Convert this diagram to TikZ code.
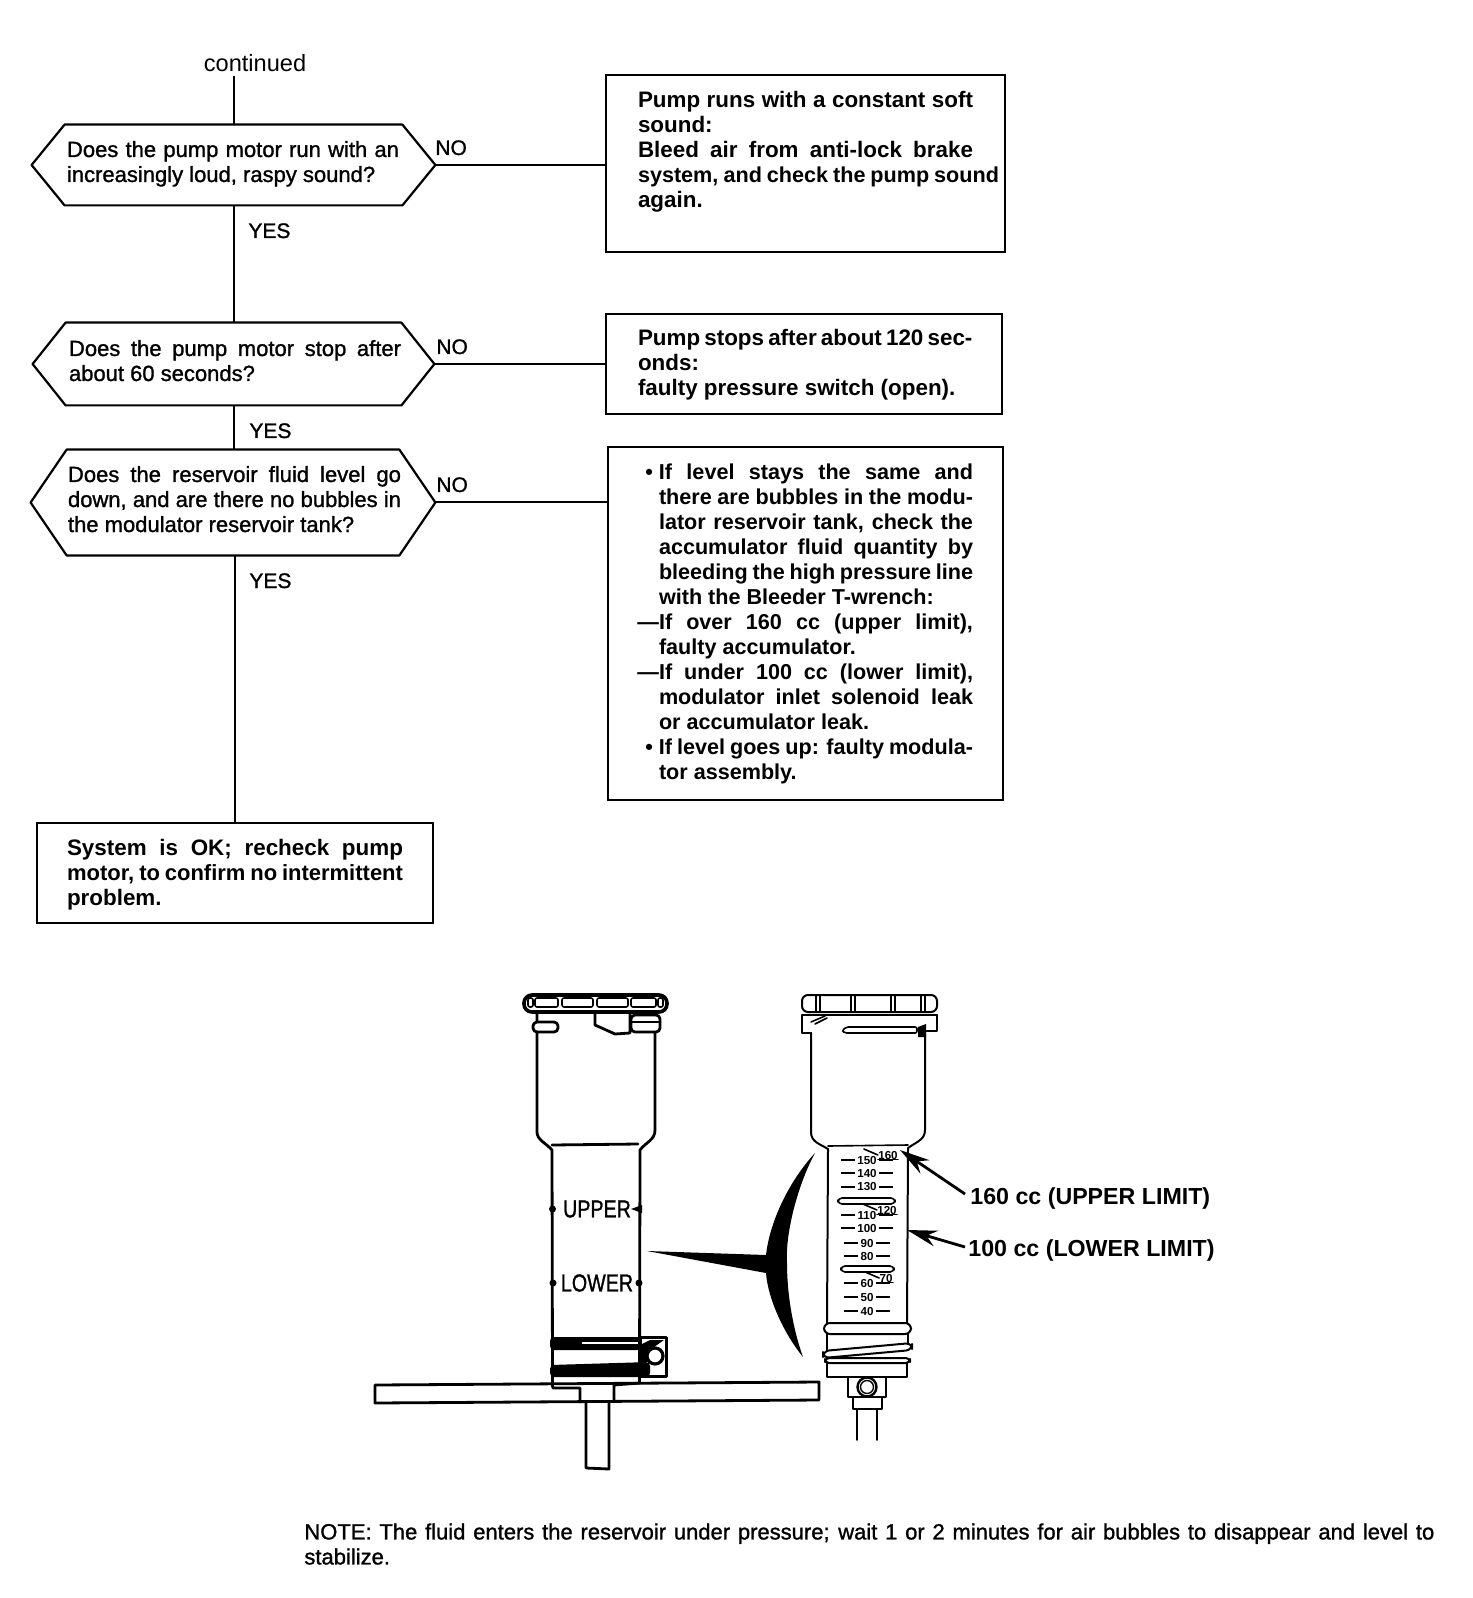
\documentclass[tikz,border=0pt]{standalone}
\usepackage{fontspec}
\usepackage{graphicx}
\setmainfont{Liberation Sans}
\newfontfamily\medf[FakeBold=1.2]{Liberation Sans}
\usetikzlibrary{arrows.meta}
\hbadness=10000 \hfuzz=50pt \vbadness=10000 \vfuzz=50pt
\newdimen\tbpad
\newcommand\TB[5]{\vbox to #2pt{\hrule height 0pt width #1pt \baselineskip=12.5pt \lineskip=0pt \lineskiplimit=-100pt \tbpad=#4pt
  \vskip\dimexpr #3pt-12.5pt\relax \prevdepth=0pt #5\vss}}
\newcommand\JL[2]{\hbox{\kern\tbpad\hbox to #1pt{#2}}}
\newcommand\PL[1]{\hbox{\kern\tbpad #1}}
\tikzset{
  conn/.style={line width=1pt,black},
  hexnode/.style={inner sep=0pt,font=\fontsize{11}{12.5}\medf},
  hexline/.style={line width=1.1pt,line join=round},
  procbox/.style={draw,line width=1pt,inner sep=0pt,font=\fontsize{11.2}{12.5}\bfseries},
  flowlab/.style={inner sep=0pt,anchor=base west,font=\fontsize{10.5}{12.5}\medf},
  calllab/.style={inner sep=0pt,anchor=base west,font=\fontsize{11.6}{12.5}\bfseries},
  part/.style={line width=1.4pt,line join=round,line cap=round},
  rpart/.style={line width=1pt,line join=round,line cap=round},
  thinpart/.style={line width=.8pt,line join=round,line cap=round},
  stencil/.style={inner sep=0pt,font=\fontsize{12}{12}\medf},
  gradtxt/.style={inner sep=0pt,font=\fontsize{5.8}{6}\bfseries},
  callarrow/.style={line width=1.4pt,-{Stealth[length=15pt,width=8pt]}}
}
\begin{document}
\begin{tikzpicture}[x=0.5pt,y=-0.5pt]
\useasboundingbox (0,0) rectangle (1472,1598);
% --- flowchart ---
\node[flowlab,anchor=base,font=\fontsize{11.8}{12.5}\selectfont] (cont) at (255,72) {continued};
\coordinate (contEnd) at (233.5,76);
\node[hexnode,minimum width=201.5pt,minimum height=40pt] (d1) at (233.5,165)
  {\TB{201.5}{40}{16}{17.5}{\JL{166}{Does the pump motor run with an}\PL{increasingly loud, raspy sound?}}};
\node[hexnode,minimum width=200.5pt,minimum height=41pt] (d2) at (233.5,364)
  {\TB{200.5}{41}{16.5}{18}{\JL{166}{Does the pump motor stop after}\PL{about 60 seconds?}}};
\node[hexnode,minimum width=202pt,minimum height=52.5pt] (d3) at (233,502.5)
  {\TB{202}{52.5}{16}{18.5}{\JL{166.5}{Does the reservoir fluid level go}\JL{166.5}{down, and are there no bubbles in}\PL{the modulator reservoir tank?}}};
\foreach \n/\c in {d1/16.5,d2/16.5,d3/18}{
  \draw[hexline] (\n.west) -- ([xshift=\c pt]\n.north west) -- ([xshift=-\c pt]\n.north east) -- (\n.east)
     -- ([xshift=-\c pt]\n.south east) -- ([xshift=\c pt]\n.south west) -- cycle;
}
\node[procbox,minimum width=199.5pt,minimum height=88.5pt] (b1) at (805.5,163.5)
  {\TB{199.5}{88.5}{16.5}{16}{\JL{167.5}{Pump runs with a constant soft}\PL{sound:}\JL{167.5}{Bleed air from anti-lock brake}\JL{180.5}{\fontsize{10.8}{12.5}\selectfont system, and check the pump sound}\PL{again.}}};
\node[procbox,minimum width=198pt,minimum height=50pt] (b2) at (804,364)
  {\TB{198}{50}{16}{16}{\JL{167}{Pump stops after about 120 sec-}\PL{onds:}\PL{faulty pressure switch (open).}}};
\node[procbox,minimum width=197.5pt,minimum height=176.5pt,font=\fontsize{10.8}{12.5}\bfseries] (b3) at (805.5,623.5)
  {\TB{197.5}{176.5}{16}{25.5}{%
   \JL{157}{\llap{\textbullet\kern3pt}If level stays the same and}
   \JL{157}{there are bubbles in the modu-}
   \JL{157}{lator reservoir tank, check the}
   \JL{157}{accumulator fluid quantity by}
   \JL{157}{bleeding the high pressure line}
   \PL{with the Bleeder T-wrench:}
   \JL{157}{\llap{---}If over 160 cc (upper limit),}
   \PL{faulty accumulator.}
   \JL{157}{\llap{---}If under 100 cc (lower limit),}
   \JL{157}{modulator inlet solenoid leak}
   \PL{or accumulator leak.}
   \JL{157}{\llap{\textbullet\kern3pt}If level goes up: faulty modula-}
   \PL{tor assembly.}}};
\node[procbox,minimum width=198pt,minimum height=50pt] (sys) at (235,873)
  {\TB{198}{50}{16}{15}{\JL{168}{System is OK; recheck pump}\JL{168}{\fontsize{11}{12.5}\selectfont motor, to confirm no intermittent}\PL{problem.}}};
\draw[conn] (contEnd) -- (contEnd |- d1.north);
\draw[conn] (d1.south) -- (d2.north);
\draw[conn] (d2.south) -- (d3.north -| d2.south);
\draw[conn] (sys.north |- d3.south) -- (sys.north);
\draw[conn] (d1.east) -- (d1.east -| b1.west);
\draw[conn] (d2.east) -- (d2.east -| b2.west);
\draw[conn] (d3.east) -- (d3.east -| b3.west);
\node[flowlab] (no1) at (435,155) {NO};
\node[flowlab] (no2) at (436,354) {NO};
\node[flowlab] (no3) at (436,492) {NO};
\node[flowlab] (yes1) at (248,238) {YES};
\node[flowlab] (yes2) at (249,438) {YES};
\node[flowlab] (yes3) at (249,588) {YES};
% --- left reservoir ---
\draw[part] (537,1013) -- (537,1132) .. controls (537,1140) and (546,1143) .. (552,1150) -- (552.5,1383);
\draw[part] (655,1033) -- (655,1130) .. controls (655,1140) and (646,1142) .. (640,1150) -- (639.5,1383);
\draw[part] (552,1145) -- (638,1144);
\draw[part,fill=white,rounded corners=4pt,line width=1.8pt] (524,995) rectangle (667,1012);
\foreach \a/\b in {528/533,535/558,562/593,597/628,631/656,658/663}
  \draw[thinpart,rounded corners=1pt] (\a,998) rectangle (\b,1007);
\draw[part,fill=white,rounded corners=2pt] (533,1022) rectangle (558,1032);
\draw[part,fill=white,rounded corners=2pt] (631,1015) rectangle (660,1032);
\draw[part] (631,1022) -- (660,1022);
\draw[part] (595,1013) -- (595,1025) -- (615,1034) -- (630,1033) -- (630,1013);
\node[stencil] (upper) at (597,1209) {\scalebox{0.82}[1.02]{UPPER}};
\node[stencil] (lower) at (597,1283) {\scalebox{0.82}[1.02]{LOWER}};
\fill (552.5,1209) circle [radius=3.5];
\fill (642,1205) -- (631,1209) -- (642,1213) -- cycle;
\fill (553,1283) circle [radius=3.5];
\fill (639,1283) circle [radius=3.5];
% clamp and bands
\draw[part,line width=1.5pt] (640,1337) rectangle (666,1376);
\fill[rounded corners=2pt] (550,1337) rectangle (641,1350);
\fill[white] (582,1342) rectangle (638,1344);
\fill[rounded corners=2pt] (550,1365) -- (650,1362) -- (650,1377) -- (550,1377) -- cycle;
\fill (640,1345) -- (650,1340) -- (664,1340) -- (650,1350) -- (650,1362) -- (640,1362) -- cycle;
\draw[fill=white,line width=1.6pt] (655,1356) circle [radius=8];
% T-wrench
\draw[part,fill=white] (375,1385) -- (819,1382) -- (819,1400) -- (375,1403) -- cycle;
\draw[part] (552,1384) -- (553,1388) -- (580,1388) -- (580,1402);
\draw[part] (640,1383) -- (614,1385) -- (614,1402);
\draw[part] (586,1402) -- (586,1468) -- (609,1469) -- (609,1402);
% --- big arrow between the reservoirs ---
\fill (647,1251) -- (766,1255) .. controls (770,1220) and (790,1180) .. (815,1153)
  .. controls (800,1180) and (785,1230) .. (787,1263)
  .. controls (787,1300) and (795,1335) .. (803,1357)
  .. controls (785,1335) and (768,1300) .. (766,1273) -- cycle;
% --- right reservoir ---
\draw[rpart] (811,1033) -- (811,1132) .. controls (811,1142) and (820,1144) .. (828,1149) -- (827,1323);
\draw[rpart] (925,1033) -- (925,1130) .. controls (925,1140) and (916,1142) .. (908,1148) -- (907,1323);
\draw[thinpart] (828,1146) -- (908,1145);
\draw[rpart,rounded corners=3pt,fill=white] (802,1012) -- (802,995) -- (937,995) -- (937,1012) -- cycle;
\draw[rpart] (802,1015) -- (937,1015);
\foreach \x in {818,853,893,923}{
  \draw[thinpart] (\x-2,996) -- (\x-2,1011);
  \draw[thinpart] (\x+2,996) -- (\x+2,1011);
}
\draw[rpart] (802,1015) -- (802,1033) -- (811,1033);
\draw[rpart] (937,1015) -- (937,1031) -- (925,1031);
\draw[thinpart] (811,1022) -- (825,1016);
\draw[thinpart] (815,1024) -- (827,1018);
\draw[thinpart,rounded corners=1pt] (846,1027) -- (917,1027) -- (917,1033) -- (845,1033) -- (842,1031) -- cycle;
\fill (918,1027) -- (926,1024) -- (926,1037) -- (918,1037) -- cycle;
% graduations
\foreach \v/\yy/\lw in {150/1160/.8,140/1173/1.1,130/1187/1.1,110/1215/1.1,100/1228/.8,90/1243/.8,80/1256/.8,60/1283/1.1,50/1297/1.1,40/1311/.8}{
  \node[gradtxt] (g\v) at (867,\yy) {\v};
  \draw[line width=\lw pt] (g\v.west) ++(-2,0) -- ++(-14,0);
  \draw[line width=\lw pt] (g\v.east) ++(2,0) -- ++(14,0);
}
\foreach \v/\xx/\yy in {160/888/1155,120/887/1210,70/886/1278}{
  \node[gradtxt] (g\v) at (\xx,\yy) {\v};
  \draw[thinpart] (g\v.south west) -- (g\v.south east);
  \draw[thinpart] (g\v.west) -- ++(-14,-6);
}
\draw[thinpart,rounded corners=2pt] (838,1198) rectangle (895,1204);
\draw[thinpart,rounded corners=2pt] (841,1266) rectangle (894,1272);
% rings and fitting
\draw[rpart,fill=white,rounded corners=3pt] (824,1323) rectangle (911,1334);
\draw[rpart,fill=white,rounded corners=3pt] (823,1351) -- (912,1343) -- (912,1350) -- (823,1358) -- cycle;
\draw[rpart] (827,1334) -- (827,1350);
\draw[rpart] (908,1334) -- (908,1344);
\draw[rpart,fill=white,rounded corners=2pt] (825,1358) rectangle (910,1363);
\draw[rpart] (827,1363) -- (827,1377) -- (907,1377) -- (907,1363);
\draw[rpart] (848,1377) -- (848,1397) -- (886,1397) -- (886,1377);
\draw[line width=1.2pt] (867,1387) circle [radius=9.5];
\draw[line width=.7pt] (867,1387) circle [radius=6.5];
\draw[rpart] (853,1397) -- (853,1409) -- (882,1409) -- (882,1397);
\draw[thinpart] (857,1409) -- (857,1440);
\draw[thinpart] (877,1409) -- (877,1440);
% --- callouts ---
\node[calllab] (lab160) at (970,1204) {160 cc (UPPER LIMIT)};
\node[calllab] (lab100) at (968,1256) {100 cc (LOWER LIMIT)};
\coordinate (tip160) at (900,1150);
\coordinate (tip100) at (907,1230);
\draw[callarrow] (lab160.west) ++(-5,-4) -- (tip160);
\draw[callarrow] (lab100.west) ++(-3,-3) -- (tip100);
% --- note ---
\node[inner sep=0pt,anchor=north west,font=\fontsize{11}{15}\medf] (note) at (304,1514)
  {\TB{565}{32}{12.5}{0}{\JL{565}{NOTE: The fluid enters the reservoir under pressure; wait 1 or 2 minutes for air bubbles to disappear and level to}\PL{stabilize.}}};
\end{tikzpicture}
\end{document}
